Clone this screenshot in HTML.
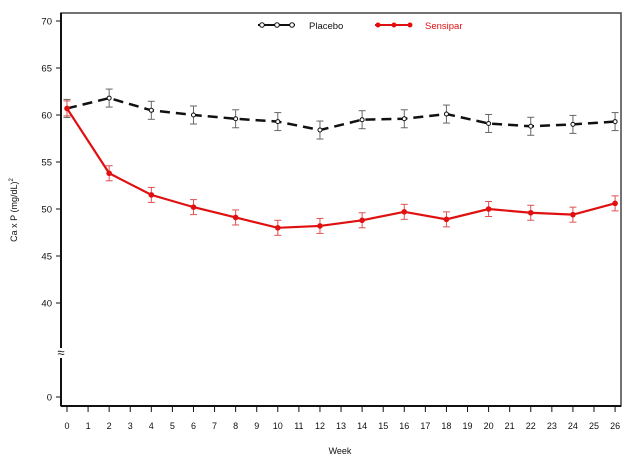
<!DOCTYPE html>
<html><head><meta charset="utf-8"><style>
html,body{margin:0;padding:0;background:#fff;}
svg{display:block;font-family:"Liberation Sans",Arial,sans-serif;}
</style></head><body>
<svg id="s" width="632" height="461" viewBox="0 0 632 461" xmlns="http://www.w3.org/2000/svg">
<rect x="61" y="13" width="560" height="393" fill="none" stroke="#444" stroke-width="1.5"/>
<line x1="61" y1="13" x2="61" y2="406" stroke="#111" stroke-width="2"/>
<line x1="61" y1="406" x2="621" y2="406" stroke="#111" stroke-width="2"/>
<rect x="55" y="348" width="12" height="10" fill="#fff"/>
<text x="61" y="357" font-size="13" text-anchor="middle" fill="#111">≈</text>
<text transform="translate(17,210) rotate(-90)" font-size="9" text-anchor="middle" fill="#111">Ca x P (mg/dL)<tspan font-size="6" dy="-4">2</tspan></text>
<text x="340" y="454" font-size="9" text-anchor="middle" fill="#111">Week</text>
<line x1="258" y1="25" x2="295" y2="25" stroke="#111" stroke-width="2"/>
<circle cx="262" cy="25" r="2.3" fill="#fff" stroke="#111"/>
<circle cx="277" cy="25" r="2.3" fill="#fff" stroke="#111"/>
<circle cx="292" cy="25" r="2.3" fill="#fff" stroke="#111"/>
<text x="309" y="29" font-size="9.5" fill="#111">Placebo</text>
<line x1="375" y1="25" x2="412" y2="25" stroke="#e01010" stroke-width="2"/>
<circle cx="378" cy="25" r="2.5" fill="#e01010"/>
<circle cx="394" cy="25" r="2.5" fill="#e01010"/>
<circle cx="410" cy="25" r="2.5" fill="#e01010"/>
<text x="425" y="29" font-size="9.5" fill="#e01010">Sensipar</text>
<g id="g"></g>
</svg>
<script>
var NS="http://www.w3.org/2000/svg",s=document.getElementById('s');
function el(t,a,tx){var e=document.createElementNS(NS,t);for(var k in a)e.setAttribute(k,a[k]);if(tx!=null)e.textContent=tx;s.appendChild(e);return e;}
function X(w){return 67+w*21.08;}
function Y(v){return 679-9.4*v;}
[70,65,60,55,50,45,40].forEach(function(v){var y=Y(v);el('line',{x1:56,y1:y,x2:61,y2:y,stroke:'#111'});el('text',{x:52,y:y+3.5,'font-size':9.5,'text-anchor':'end',fill:'#111'},v);});
el('line',{x1:56,y1:397,x2:61,y2:397,stroke:'#111'});el('text',{x:52,y:400.5,'font-size':9.5,'text-anchor':'end',fill:'#111'},'0');
for(var w=0;w<=26;w++){var x=X(w);el('line',{x1:x,y1:406,x2:x,y2:412,stroke:'#111'});el('text',{x:x,y:429,'font-size':9,'text-anchor':'middle',fill:'#111'},w);}
var wk=[0,2,4,6,8,10,12,14,16,18,20,22,24,26];
var pl=[60.7,61.8,60.5,60.0,59.6,59.3,58.4,59.5,59.6,60.1,59.1,58.8,59.0,59.3];
var se=[60.7,53.8,51.5,50.2,49.1,48.0,48.2,48.8,49.7,48.9,50.0,49.6,49.4,50.6];
function bars(d,e,c){d.forEach(function(v,i){var x=X(wk[i]),y=Y(v);el('line',{x1:x,y1:y-e,x2:x,y2:y+e,stroke:c});el('line',{x1:x-3.5,y1:y-e,x2:x+3.5,y2:y-e,stroke:c});el('line',{x1:x-3.5,y1:y+e,x2:x+3.5,y2:y+e,stroke:c});});}
bars(pl,9,'#666');bars(se,7.5,'#e05050');
function pts(d){return d.map(function(v,i){return X(wk[i])+','+Y(v)}).join(' ');}
el('polyline',{points:pts(pl),fill:'none',stroke:'#111','stroke-width':2.5,'stroke-dasharray':'10,6'});
el('polyline',{points:pts(se),fill:'none',stroke:'#e01010','stroke-width':2.2});
pl.forEach(function(v,i){el('circle',{cx:X(wk[i]),cy:Y(v),r:2,fill:'#fff',stroke:'#111'});});
se.forEach(function(v,i){el('circle',{cx:X(wk[i]),cy:Y(v),r:2.8,fill:'#e01010'});});
</script>
</body></html>
